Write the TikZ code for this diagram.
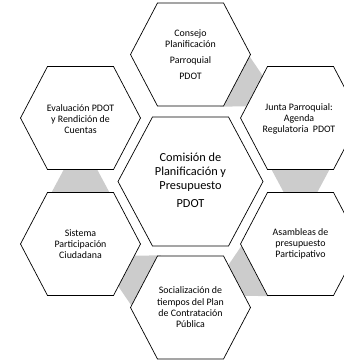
\documentclass[tikz,border=0pt]{standalone}
\usepackage{fontspec}
\setmainfont{Carlito}
\usetikzlibrary{calc}

% hexagon round a named centre: #1 centre, #2 half width, #3 half top edge, #4 half height
\newcommand{\hexagon}[4]{%
  \draw[hex,shift={(#1)}] (-#2,0) -- (-#3,-#4) -- (#3,-#4) -- (#2,0)
    -- (#3,#4) -- (-#3,#4) -- cycle;}
% grey link from #1 to #2, pointing at angle #3
\newcommand{\hexlink}[3]{%
  \fill[conn,shift={($(#1)!0.5!(#2)$)},rotate=#3]
    (-13,-29.8) -- (13,-15.9) -- (13,15.9) -- (-13,29.8) -- cycle;}

\begin{document}
\begin{tikzpicture}
  [x=1pt,y=-1pt,
   hex/.style={draw=black,fill=white,line width=0.7pt},
   txt/.style={align=center,inner sep=0pt,font=\fontsize{9.9}{11.3}\selectfont},
   bigtxt/.style={align=center,inner sep=0pt,font=\fontsize{12.3}{14}\selectfont},
   conn/.style={fill=black!20}]

  \useasboundingbox (0,0) rectangle (344,361);
  \clip (0,0) rectangle (344,361);

  % centres
  \coordinate (comision) at (190.5,181.5);
  \coordinate (consejo) at (190.5,54.5);
  \coordinate (junta) at (300.5,118);
  \coordinate (asamb) at (300.5,244);
  \coordinate (social) at (190.5,307.5);
  \coordinate (sistema) at (80.5,244);
  \coordinate (evalua) at (80.5,118);

  % links
  \hexlink{consejo}{junta}{-27.7}
  \hexlink{junta}{asamb}{-90}
  \hexlink{asamb}{social}{-152.3}
  \hexlink{social}{sistema}{152.3}
  \hexlink{sistema}{evalua}{90}

  % hexagons
  \hexagon{comision}{72.5}{38}{64.5}
  \hexagon{consejo}{60}{33}{51.5}
  \hexagon{junta}{60}{33}{51.5}
  \hexagon{asamb}{60}{33}{51.5}
  \hexagon{social}{60}{33}{51.5}
  \hexagon{sistema}{60}{33}{51.5}
  \hexagon{evalua}{60}{33}{51.5}

  % texts
  \node[bigtxt] (tcomision) at ($(comision)+(0,-1.5)$)
    {Comisión de\\Planificación y\\Presupuesto\\[4pt]PDOT};
  \node[txt] (tconsejo) at (consejo)
    {Consejo\\Planificación\\[4.5pt]Parroquial\\[4.5pt]PDOT};
  \node[txt] (tjunta) at ($(junta)+(-1.5,1)$)
    {Junta Parroquial:\\Agenda\\Regulatoria\ \ PDOT};
  \node[txt] (tasamb) at (asamb)
    {Asambleas de\\presupuesto\\Participativo};
  \node[txt] (tsocial) at (social)
    {Socialización de\\tiempos del Plan\\de Contratación\\Pública};
  \node[txt] (tsistema) at (sistema)
    {Sistema\\Participación\\Ciudadana};
  \node[txt] (tevalua) at ($(evalua)+(0,1)$)
    {Evaluación PDOT\\y Rendición de\\Cuentas};

\end{tikzpicture}
\end{document}
